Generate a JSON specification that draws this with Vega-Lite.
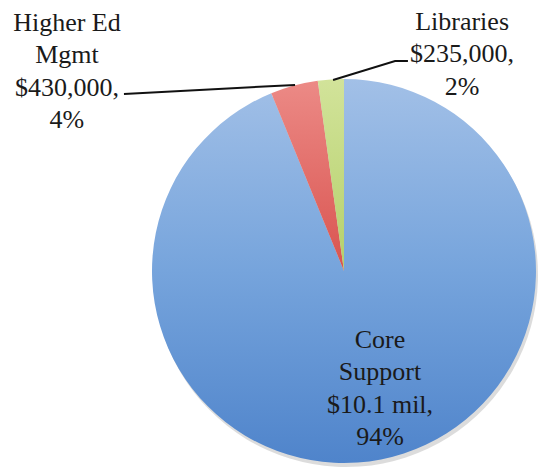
{
  "$schema": "https://vega.github.io/schema/vega-lite/v6.json",
  "width": 384,
  "height": 384,
  "autosize": "none",
  "padding": {"left": 152, "top": 79, "right": 7, "bottom": 12},
  "background": "white",
  "view": {"stroke": null},
  "datasets": {
    "slices": [
      {"name": "Core Support", "amount": 10100000, "order": 1},
      {"name": "Higher Ed Mgmt", "amount": 430000, "order": 2},
      {"name": "Libraries", "amount": 235000, "order": 3}
    ],
    "labels": [
      {"name": "Higher Ed Mgmt", "label": "Higher Ed\nMgmt\n$430,000,\n4%", "x": -1.443, "y": 1.292},
      {"name": "Libraries", "label": "Libraries\n$235,000,\n2%", "x": 0.615, "y": 1.297},
      {"name": "Core Support", "label": "Core\nSupport\n$10.1 mil,\n94%", "x": 0.1875, "y": -0.359}
    ],
    "leaders": [
      {"name": "Higher Ed Mgmt", "step": 1, "x": -1.146, "y": 0.922},
      {"name": "Higher Ed Mgmt", "step": 2, "x": -0.255, "y": 0.969},
      {"name": "Libraries", "step": 1, "x": -0.057, "y": 0.995},
      {"name": "Libraries", "step": 2, "x": 0.266, "y": 1.094},
      {"name": "Libraries", "step": 3, "x": 0.333, "y": 1.094}
    ]
  },
  "layer": [
    {
      "data": {"name": "slices"},
      "mark": {"type": "arc", "radius": 192, "fill": "#9a9a9a", "opacity": 0.35, "xOffset": 2, "yOffset": 4, "stroke": null},
      "encoding": {
        "theta": {"field": "amount", "type": "quantitative", "stack": true},
        "order": {"field": "order", "type": "quantitative"}
      }
    },
    {
      "data": {"name": "slices"},
      "mark": {"type": "arc", "radius": 192, "stroke": null},
      "encoding": {
        "theta": {"field": "amount", "type": "quantitative", "stack": true},
        "order": {"field": "order", "type": "quantitative"},
        "fill": {
          "condition": [
            {"test": "datum.name === 'Higher Ed Mgmt'", "value": {"gradient": "linear", "x1": 0, "y1": 0, "x2": 0, "y2": 1, "stops": [{"offset": 0, "color": "#ec8a86"}, {"offset": 1, "color": "#d9534f"}]}},
            {"test": "datum.name === 'Libraries'", "value": {"gradient": "linear", "x1": 0, "y1": 0, "x2": 0, "y2": 1, "stops": [{"offset": 0, "color": "#d2e39a"}, {"offset": 1, "color": "#b4d06a"}]}}
          ],
          "value": {"gradient": "linear", "x1": 0, "y1": 0, "x2": 0, "y2": 1, "stops": [{"offset": 0, "color": "#a2c0e7"}, {"offset": 0.5, "color": "#76a4dc"}, {"offset": 1, "color": "#4f84cb"}]}
        }
      }
    },
    {
      "data": {"name": "leaders"},
      "mark": {"type": "line", "color": "#111111", "strokeWidth": 2},
      "encoding": {
        "x": {"field": "x", "type": "quantitative", "scale": {"domain": [-1, 1], "nice": false, "zero": false}, "axis": null},
        "y": {"field": "y", "type": "quantitative", "scale": {"domain": [-1, 1], "nice": false, "zero": false}, "axis": null},
        "detail": {"field": "name", "type": "nominal"},
        "order": {"field": "step", "type": "quantitative"}
      }
    },
    {
      "data": {"name": "labels"},
      "mark": {"type": "text", "font": "Liberation Serif, Times New Roman, DejaVu Serif, serif", "fontSize": 26, "lineHeight": 32.5, "lineBreak": "\n", "align": "center", "baseline": "middle", "color": "#1a1a1a"},
      "encoding": {
        "x": {"field": "x", "type": "quantitative", "scale": {"domain": [-1, 1], "nice": false, "zero": false}, "axis": null},
        "y": {"field": "y", "type": "quantitative", "scale": {"domain": [-1, 1], "nice": false, "zero": false}, "axis": null},
        "text": {"field": "label", "type": "nominal"}
      }
    }
  ]
}
